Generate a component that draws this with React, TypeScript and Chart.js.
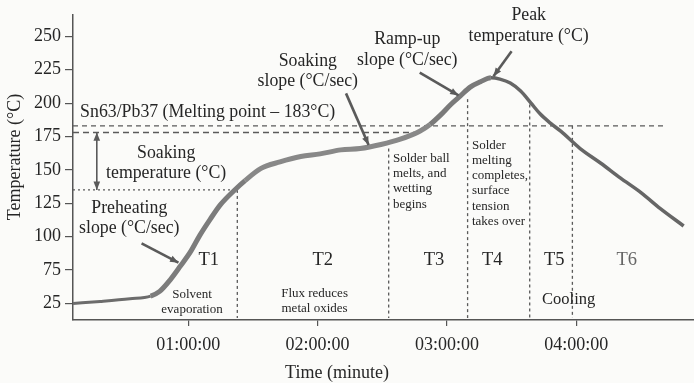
import React, { useEffect, useRef } from 'react';
import { Chart, registerables, LinearScale } from 'chart.js';

Chart.register(...registerables);

// ---- Data (time in minutes, temperature in °C) ----
const timeMinutes = [0.11, 0.32, 0.55, 0.71, 0.78, 0.86, 0.94, 1.02, 1.09, 1.17, 1.25, 1.36, 1.44, 1.56, 1.71, 1.87, 2.02, 2.18, 2.33, 2.49, 2.64, 2.79, 2.87, 2.95, 3.03, 3.10, 3.18, 3.26, 3.34, 3.41, 3.49, 3.57, 3.65, 3.72, 3.80, 3.88, 4.03, 4.19, 4.34, 4.50, 4.65, 4.83];
const temperature = [25, 28, 32, 36, 43, 60, 78, 89, 101, 113, 124, 135, 142, 151, 156, 160, 162, 165, 166, 169, 173, 179, 184, 191, 199, 205, 212, 216, 219, 218, 215, 209, 200, 192, 185, 179, 166, 155, 144, 133, 121, 108];

const xTickValues = [1, 2, 3, 4];
const xTickLabels = ['01:00:00', '02:00:00', '03:00:00', '04:00:00'];
const yTickValues = [25, 75, 100, 125, 150, 175, 200, 225, 250];
const yTickLabels = ['25', '75', '100', '125', '150', '175', '200', '225', '250'];

const meltingPoint = 183;
const soakUpper = 178;
const soakLower = 135;
const phaseBoundaryTimes = [1.38, 2.55, 3.16, 3.64, 3.97];
const phaseBoundaryTopTemps = [135, 166, 203, 199, 183];
const phaseNames = ['T1', 'T2', 'T3', 'T4', 'T5', 'T6'];
const phaseNameTimes = [1.16, 2.04, 2.9, 3.35, 3.83, 4.39];

// The printed axis is compressed below 75 °C (25 sits one step below 75)
const toWarped = (v: number) => (v >= 75 ? v : 75 - (75 - v) / 2);
const fromWarped = (w: number) => (w >= 75 ? w : 75 - (75 - w) * 2);

class BrokenLinearScale extends LinearScale {
  static id = 'brokenLinear';
  static defaults = LinearScale.defaults;
  getPixelForValue(value: number) {
    return super.getPixelForValue(toWarped(value));
  }
  getValueForPixel(pixel: number) {
    return fromWarped(super.getValueForPixel(pixel));
  }
}
Chart.register(BrokenLinearScale as any);

const FONT = '"Liberation Serif", "Times New Roman", serif';
const TEXT = '#262626';
const LINE = '#5a5a5a';

type Note = { lines: string[]; t: number; v: number; lh: number; size: number; align: CanvasTextAlign; color?: string };
const notes: Note[] = [
  { lines: ['Sn63/Pb37 (Melting point – 183°C)'], t: 0.165, v: 193.3, lh: 0, size: 17.8, align: 'left' },
  { lines: ['Soaking', 'temperature (°C)'], t: 0.83, v: 162.7, lh: 20, size: 17.8, align: 'center' },
  { lines: ['Preheating', 'slope (°C/sec)'], t: 0.545, v: 121.5, lh: 20, size: 17.8, align: 'center' },
  { lines: ['Solvent', 'evaporation'], t: 1.03, v: 37.8, lh: 14.5, size: 13, align: 'center' },
  { lines: ['Flux reduces', 'metal oxides'], t: 1.977, v: 40.2, lh: 15, size: 13, align: 'center' },
  { lines: ['Solder ball', 'melts, and', 'wetting', 'begins'], t: 2.583, v: 158.7, lh: 15.3, size: 13, align: 'left' },
  { lines: ['Solder', 'melting', 'completes,', 'surface', 'tension', 'takes over'], t: 3.194, v: 168.1, lh: 15.1, size: 13, align: 'left' },
  { lines: ['Cooling'], t: 3.941, v: 30.2, lh: 0, size: 16.5, align: 'center' },
  { lines: ['Soaking', 'slope (°C/sec)'], t: 1.925, v: 231, lh: 20, size: 17.8, align: 'center' },
  { lines: ['Ramp-up', 'slope (°C/sec)'], t: 2.694, v: 247.8, lh: 20.7, size: 17.8, align: 'center' },
  { lines: ['Peak', 'temperature (°C)'], t: 3.632, v: 265.9, lh: 21, size: 17.8, align: 'center' },
];

type Pointer = { t1: number; v1: number; t2: number; v2: number; both?: boolean; w: number };
const pointers: Pointer[] = [
  { t1: 0.64, v1: 95, t2: 0.925, v2: 80.5, w: 2.6 },
  { t1: 2.22, v1: 207.3, t2: 2.395, v2: 168.6, w: 2.6 },
  { t1: 2.79, v1: 222.8, t2: 3.09, v2: 205.8, w: 2.6 },
  { t1: 3.5, v1: 238.8, t2: 3.36, v2: 220.1, w: 2.6 },
  { t1: 0.294, v1: 178, t2: 0.294, v2: 135, both: true, w: 1.6 },
];

function drawHead(ctx: CanvasRenderingContext2D, x1: number, y1: number, x2: number, y2: number, size: number) {
  const a = Math.atan2(y2 - y1, x2 - x1);
  ctx.beginPath();
  ctx.moveTo(x2, y2);
  ctx.lineTo(x2 - size * Math.cos(a - 0.38), y2 - size * Math.sin(a - 0.38));
  ctx.lineTo(x2 - size * Math.cos(a + 0.38), y2 - size * Math.sin(a + 0.38));
  ctx.closePath();
  ctx.fill();
}

const annotationPlugin = {
  id: 'reflowAnnotations',
  beforeDraw(chart: any) {
    const ctx = chart.ctx;
    ctx.save();
    ctx.fillStyle = '#fbfbf9';
    ctx.fillRect(0, 0, chart.width, chart.height);
    ctx.restore();
  },
  beforeDatasetsDraw(chart: any) {
    const ctx: CanvasRenderingContext2D = chart.ctx;
    const xs = chart.scales.x;
    const ys = chart.scales.y;
    const area = chart.chartArea;
    ctx.save();
    ctx.strokeStyle = LINE;
    // melting point line
    ctx.lineWidth = 1.3;
    ctx.setLineDash([5, 4]);
    ctx.beginPath();
    ctx.moveTo(area.left, ys.getPixelForValue(meltingPoint));
    ctx.lineTo(xs.getPixelForValue(4.7), ys.getPixelForValue(meltingPoint));
    ctx.stroke();
    // soak upper
    ctx.lineWidth = 1.5;
    ctx.setLineDash([6, 4]);
    ctx.beginPath();
    ctx.moveTo(area.left, ys.getPixelForValue(soakUpper));
    ctx.lineTo(xs.getPixelForValue(2.79), ys.getPixelForValue(soakUpper));
    ctx.stroke();
    // soak lower
    ctx.lineWidth = 1.3;
    ctx.setLineDash([2, 3]);
    ctx.beginPath();
    ctx.moveTo(area.left, ys.getPixelForValue(soakLower));
    ctx.lineTo(xs.getPixelForValue(1.36), ys.getPixelForValue(soakLower));
    ctx.stroke();
    // phase boundaries
    ctx.lineWidth = 1.3;
    ctx.setLineDash([3, 3]);
    phaseBoundaryTimes.forEach((t, i) => {
      const x = xs.getPixelForValue(t);
      ctx.beginPath();
      ctx.moveTo(x, ys.getPixelForValue(phaseBoundaryTopTemps[i]));
      ctx.lineTo(x, area.bottom - 2);
      ctx.stroke();
    });
    ctx.restore();
  },
  afterDatasetsDraw(chart: any) {
    const ctx: CanvasRenderingContext2D = chart.ctx;
    const xs = chart.scales.x;
    const ys = chart.scales.y;
    ctx.save();
    ctx.textBaseline = 'middle';
    // phase names
    ctx.textAlign = 'center';
    ctx.font = `18.5px ${FONT}`;
    phaseNames.forEach((n, i) => {
      ctx.fillStyle = i === 5 ? '#666' : TEXT;
      ctx.fillText(n, xs.getPixelForValue(phaseNameTimes[i]), ys.getPixelForValue(82.2));
    });
    // notes
    notes.forEach((nt) => {
      ctx.fillStyle = nt.color || TEXT;
      ctx.textAlign = nt.align;
      ctx.font = `${nt.size}px ${FONT}`;
      const x = xs.getPixelForValue(nt.t);
      const y = ys.getPixelForValue(nt.v);
      nt.lines.forEach((ln, i) => ctx.fillText(ln, x, y + i * nt.lh));
    });
    // pointers
    ctx.strokeStyle = '#5a5a5a';
    ctx.fillStyle = '#5a5a5a';
    pointers.forEach((p) => {
      const x1 = xs.getPixelForValue(p.t1);
      const y1 = ys.getPixelForValue(p.v1);
      const x2 = xs.getPixelForValue(p.t2);
      const y2 = ys.getPixelForValue(p.v2);
      ctx.lineWidth = p.w;
      ctx.beginPath();
      ctx.moveTo(x1, y1);
      ctx.lineTo(x2, y2);
      ctx.stroke();
      drawHead(ctx, x1, y1, x2, y2, 9);
      if (p.both) drawHead(ctx, x2, y2, x1, y1, 9);
    });
    // axis titles
    ctx.fillStyle = TEXT;
    ctx.font = `18px ${FONT}`;
    ctx.textAlign = 'center';
    ctx.fillText('Time (minute)', 337, 373);
    ctx.translate(15, 157);
    ctx.rotate(-Math.PI / 2);
    ctx.fillText('Temperature (°C)', 0, 0);
    ctx.restore();
  },
};

export default function App() {
  const ref = useRef<HTMLCanvasElement | null>(null);
  useEffect(() => {
    if (!ref.current) return;
    const data = timeMinutes.map((t, i) => ({ x: t, y: temperature[i] }));
    const chart = new Chart(ref.current, {
      type: 'line',
      data: {
        datasets: [
          {
            data,
            borderColor: '#7a7a7a',
            borderWidth: 4.5,
            pointRadius: 0,
            cubicInterpolationMode: 'monotone',
            segment: {
              borderWidth: (c: any) => {
                const t = c.p0.parsed.x;
                return t < 0.7 ? 3 : t < 3.3 ? 5 : 3.5;
              },
              borderColor: (c: any) => {
                const t = c.p0.parsed.x;
                return t < 0.7 ? '#6c6c6c' : t < 1.4 ? '#7c7c7c' : t < 2.8 ? '#888888' : t < 3.3 ? '#7a7a7a' : '#666666';
              },
            },
          } as any,
        ],
      },
      options: {
        responsive: false,
        animation: false,
        layout: { padding: { top: 15, left: 0, right: 0, bottom: 0 } },
        plugins: { legend: { display: false }, tooltip: { enabled: false } },
        scales: {
          x: {
            type: 'linear',
            min: 0.11,
            max: 4.91,
            afterBuildTicks: (s: any) => {
              s.ticks = xTickValues.map((v) => ({ value: v }));
            },
            afterFit: (s: any) => {
              s.height = 63;
            },
            grid: { drawOnChartArea: false, drawTicks: true, tickLength: 6, color: '#555', lineWidth: 1.2 },
            border: { color: '#555', width: 1.5 },
            ticks: {
              autoSkip: false,
              maxRotation: 0,
              padding: 8,
              color: TEXT,
              font: { family: FONT, size: 18 },
              callback: (_v: any, i: number) => xTickLabels[i],
            },
          },
          y: {
            type: 'brokenLinear' as any,
            min: 37.6,
            max: 266,
            bounds: 'data',
            afterBuildTicks: (s: any) => {
              s.ticks = yTickValues.map((v) => ({ value: v }));
            },
            afterFit: (s: any) => {
              s.width = 73;
            },
            grid: { drawOnChartArea: false, drawTicks: true, tickLength: 8, color: '#555', lineWidth: 1.2 },
            border: { color: '#555', width: 1.5 },
            ticks: {
              padding: 4,
              color: TEXT,
              font: { family: FONT, size: 18 },
              callback: (_v: any, i: number) => yTickLabels[i],
            },
          } as any,
        },
      },
      plugins: [annotationPlugin],
    } as any);
    return () => chart.destroy();
  }, []);
  return (
    <div style={{ position: 'fixed', left: 0, top: 0, width: 694, height: 383 }}>
      <canvas ref={ref} width={694} height={383} style={{ width: 694, height: 383, display: 'block' }} />
    </div>
  );
}
